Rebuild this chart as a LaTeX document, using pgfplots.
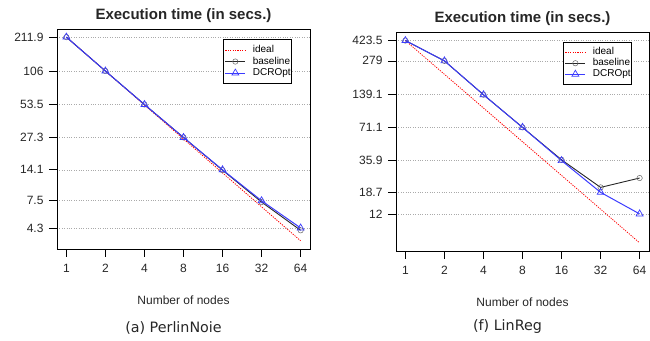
\documentclass[border=0pt]{standalone}
\usepackage{fontspec}
\setmainfont{Liberation Sans}
\newfontfamily\capfont{DejaVu Sans}
\usepackage{pgfplots}
\pgfplotsset{compat=1.18}
\definecolor{dblue}{RGB}{60,60,255}
\definecolor{dgrid}{RGB}{170,170,170}
\begin{document}
\begin{tikzpicture}
\path[use as bounding box] (0,0) rectangle (650pt,340pt);
% Left panel
\begin{axis}[
  scale only axis,
  width=253pt,
  ymode=log,
  xmin=-0.24, xmax=6.24,
  xtick={0,1,2,3,4,5,6},
  xticklabels={1,2,4,8,16,32,64},
  xtick pos=bottom, ytick pos=left,
  tick align=outside,
  major tick length=8pt,
  log ticks with fixed point,
  ymajorgrids,
  major grid style={dgrid, dotted, line width=0.6pt},
  axis line style={line width=0.8pt},
  tick style={line width=0.7pt, black},
  ticklabel style={font=\fontsize{12}{14}\selectfont, text=black!85},
  xticklabel style={yshift=-4pt},
  yticklabel style={xshift=-2pt},
  title style={at={(axis description cs:0.5,1)}, anchor=center, yshift=7pt, font=\bfseries\fontsize{15}{17}\selectfont, text=black!85},
  xlabel style={at={(axis description cs:0.5,0)}, anchor=center, yshift=-51pt, font=\fontsize{12}{14}\selectfont, text=black!85},
  legend cell align=left,
  legend image code/.code={\draw[mark repeat=2,mark phase=2] plot coordinates {(0pt,0pt) (10pt,0pt) (20pt,0pt)};},
  legend style={font=\fontsize{10}{11}\selectfont, draw=black, line width=0.8pt, inner xsep=1pt, inner ysep=6pt, column sep=7pt, row sep=2pt, nodes={inner sep=0pt, text height=7.5pt, text depth=2pt}},
  at={(57pt,91pt)}, anchor=south west,
  height=220pt,
  ymin=2.8, ymax=250,
  ytick={4.3,7.5,14.1,27.3,53.5,106,211.9},
  yticklabels={4.3,7.5,14.1,27.3,53.5,106,211.9},
  title={Execution time (in secs.)},
  xlabel={Number of nodes},
  legend style={at={(0.929,0.955)}, anchor=north east},
]
\addplot[red, dash pattern=on 1.2pt off 1.2pt, line width=0.8pt] coordinates {(0,211.9) (1,105.95) (2,52.975) (3,26.4875) (4,13.24375) (5,6.621875) (6,3.3109)};
\addlegendentry{ideal}
\addplot[black!85, line width=0.9pt, mark=o, mark size=2.7pt, mark options={solid, line width=0.5pt, black!60}] coordinates {(0,211.9) (1,106) (2,53.5) (3,27.3) (4,14.0) (5,7.3) (6,4.1)};
\addlegendentry{baseline}
\addplot[dblue, line width=1.0pt, mark=triangle, mark size=4pt, mark options={solid, line width=0.7pt}] coordinates {(0,211.9) (1,106) (2,53.5) (3,27.3) (4,14.1) (5,7.5) (6,4.3)};
\addlegendentry{DCROpt}
\end{axis}
% Right panel
\begin{axis}[
  scale only axis,
  width=253pt,
  ymode=log,
  xmin=-0.24, xmax=6.24,
  xtick={0,1,2,3,4,5,6},
  xticklabels={1,2,4,8,16,32,64},
  xtick pos=bottom, ytick pos=left,
  tick align=outside,
  major tick length=8pt,
  log ticks with fixed point,
  ymajorgrids,
  major grid style={dgrid, dotted, line width=0.6pt},
  axis line style={line width=0.8pt},
  tick style={line width=0.7pt, black},
  ticklabel style={font=\fontsize{12}{14}\selectfont, text=black!85},
  xticklabel style={yshift=-4pt},
  yticklabel style={xshift=-2pt},
  title style={at={(axis description cs:0.5,1)}, anchor=center, yshift=7pt, font=\bfseries\fontsize{15}{17}\selectfont, text=black!85},
  xlabel style={at={(axis description cs:0.5,0)}, anchor=center, yshift=-51.5pt, font=\fontsize{12}{14}\selectfont, text=black!85},
  legend cell align=left,
  legend image code/.code={\draw[mark repeat=2,mark phase=2] plot coordinates {(0pt,0pt) (10pt,0pt) (20pt,0pt)};},
  legend style={font=\fontsize{10}{11}\selectfont, draw=black, line width=0.8pt, inner xsep=1pt, inner ysep=5pt, column sep=7pt, row sep=1.5pt, nodes={inner sep=0pt, text height=7.5pt, text depth=2pt}},
  at={(396pt,89pt)}, anchor=south west,
  height=219pt,
  ymin=5.6, ymax=505,
  ytick={12,18.7,35.9,71.1,139.1,279,423.5},
  yticklabels={12,18.7,35.9,71.1,139.1,279,423.5},
  title={Execution time (in secs.)},
  xlabel={Number of nodes},
  legend style={at={(0.933,0.954)}, anchor=north east},
]
\addplot[red, dash pattern=on 1.2pt off 1.2pt, line width=0.8pt] coordinates {(0,423.5) (1,211.75) (2,105.875) (3,52.9375) (4,26.46875) (5,13.234) (6,6.617)};
\addlegendentry{ideal}
\addplot[black!85, line width=0.9pt, mark=o, mark size=2.7pt, mark options={solid, line width=0.5pt, black!60}] coordinates {(0,423.5) (1,279) (2,139.1) (3,71.1) (4,36.5) (5,20.7) (6,25.1)};
\addlegendentry{baseline}
\addplot[dblue, line width=1.0pt, mark=triangle, mark size=4pt, mark options={solid, line width=0.7pt}] coordinates {(0,423.5) (1,279) (2,139.1) (3,71.1) (4,35.9) (5,18.7) (6,12)};
\addlegendentry{DCROpt}
\end{axis}
\node[font=\capfont\fontsize{14.3}{16}\selectfont, text=black!85] at (173.5pt,12pt) {(a) PerlinNoie};
\node[font=\capfont\fontsize{14.3}{16}\selectfont, text=black!85] at (507.5pt,13pt) {(f) LinReg};
\end{tikzpicture}
\end{document}
